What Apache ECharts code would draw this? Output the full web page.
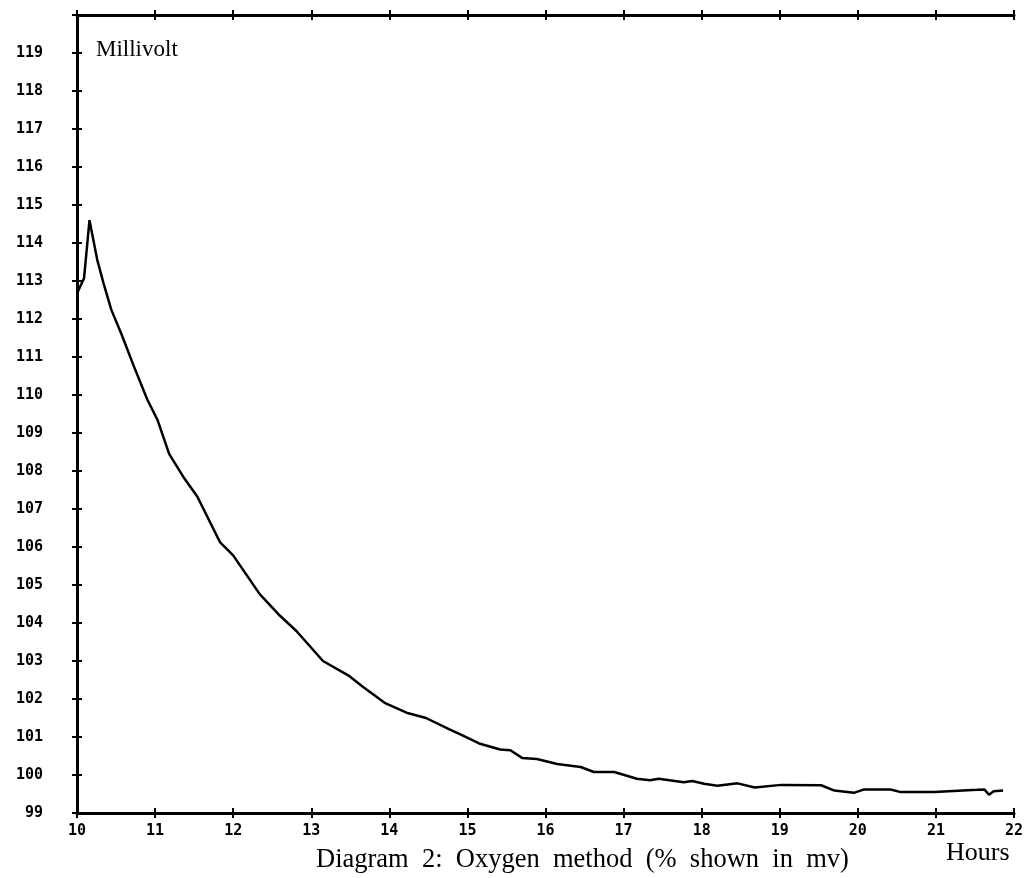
<!DOCTYPE html>
<html>
<head>
<meta charset="utf-8">
<script src="https://cdn.jsdelivr.net/npm/echarts@6/dist/echarts.min.js"></script>
<style>
  html, body { margin: 0; padding: 0; background: #fff; }
  #chart { width: 1033px; height: 878px; }
</style>
</head>
<body>
<div id="chart"></div>
<script>
// readings taken off the recorder trace (hours, millivolt)
const hours = [10.0, 10.09, 10.16, 10.26, 10.34, 10.44, 10.57, 10.72, 10.90, 11.03, 11.18, 11.36, 11.54,
  11.83, 12.0, 12.34, 12.6, 12.81, 13.15, 13.49, 13.66, 13.94, 14.22, 14.47, 14.77, 14.91, 15.15,
  15.42, 15.55, 15.70, 15.89, 16.15, 16.45, 16.62, 16.88, 17.17, 17.34, 17.45, 17.77, 17.88, 18.03,
  18.2, 18.46, 18.68, 19.02, 19.53, 19.70, 19.95, 20.08, 20.42, 20.55, 20.98, 21.53, 21.62, 21.68,
  21.74, 21.86];
const millivolt = [112.67, 113.07, 114.6, 113.55, 112.94, 112.24, 111.6, 110.8, 109.88, 109.35, 108.45,
  107.85, 107.33, 106.13, 105.78, 104.76, 104.19, 103.79, 103.0, 102.6, 102.32, 101.9, 101.64, 101.5,
  101.2, 101.07, 100.83, 100.67, 100.65, 100.45, 100.42, 100.29, 100.21, 100.08, 100.08, 99.90, 99.86,
  99.9, 99.81, 99.84, 99.77, 99.72, 99.78, 99.67, 99.74, 99.73, 99.59, 99.53, 99.62, 99.62, 99.55,
  99.55, 99.61, 99.62, 99.48, 99.57, 99.59];

const X_MIN = 10, X_MAX = 22;
const Y_MIN = 99, Y_MAX = 120;
const CAPTION = "Diagram  2:  Oxygen  method  (%  shown  in  mv)";

const chart = echarts.init(document.getElementById("chart"));

const serif = "'Liberation Serif', 'Times New Roman', serif";
const mono = "'DejaVu Sans Mono', monospace";

// plain axis with cross-shaped ticks: one axis draws the outer half, a twin the inner half
const xBase = (pos, showLabel, inside) => ({
  type: "value", position: pos, min: X_MIN, max: X_MAX, interval: 1,
  axisLine: { show: !inside, lineStyle: { color: "#000", width: 3 } },
  axisTick: { show: true, inside, length: 5, lineStyle: { color: "#000", width: 2 } },
  axisLabel: {
    show: showLabel, margin: 11, color: "#000",
    fontFamily: mono, fontWeight: "bold", fontSize: 15,
  },
  splitLine: { show: false },
});

const yBase = (showLabel, inside) => ({
  type: "value", position: "left", min: Y_MIN, max: Y_MAX, interval: 1,
  axisLine: { show: !inside, lineStyle: { color: "#000", width: 3 } },
  axisTick: { show: true, inside, length: 5, lineStyle: { color: "#000", width: 2 } },
  axisLabel: {
    show: showLabel, margin: 34, color: "#000",
    fontFamily: mono, fontWeight: "bold", fontSize: 15,
    formatter: (v) => (v === Y_MAX ? "" : String(v)),
  },
  splitLine: { show: false },
});

chart.setOption({
  animation: false,
  backgroundColor: "#fff",
  title: [
    { text: "Millivolt", left: 96, top: 38, padding: 0,
      textStyle: { fontFamily: serif, fontWeight: "normal", fontSize: 23, color: "#000" } },
    { text: CAPTION, left: 316, top: 847, padding: 0,
      textStyle: { fontFamily: serif, fontWeight: "normal", fontSize: 26.5, color: "#000" } },
    { text: "Hours", left: 946, top: 840, padding: 0,
      textStyle: { fontFamily: serif, fontWeight: "normal", fontSize: 26, color: "#000" } },
  ],
  grid: { left: 77, right: 19, top: 15, bottom: 65, show: false },
  xAxis: [
    xBase("bottom", true, false),
    xBase("bottom", false, true),
    xBase("top", false, false),
    xBase("top", false, true),
  ],
  yAxis: [
    yBase(true, false),
    yBase(false, true),
  ],
  series: [
    {
      type: "line",
      xAxisIndex: 0,
      yAxisIndex: 0,
      data: hours.map((h, i) => [h, millivolt[i]]),
      showSymbol: false,
      symbol: "none",
      lineStyle: { color: "#000", width: 2.5 },
      z: 5,
    },
  ],
});
</script>
</body>
</html>
